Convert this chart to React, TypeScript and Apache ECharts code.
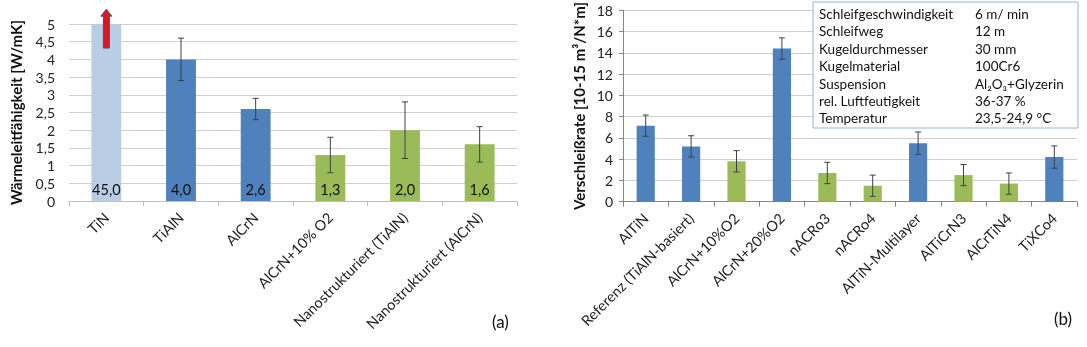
import React, { useEffect, useRef } from "react";
import * as echarts from "echarts";

// ---- Chart (a): thermal conductivity ----
const catsA = ["TiN", "TiAlN", "AlCrN", "AlCrN+10% O2", "Nanostrukturiert (TiAlN)", "Nanostrukturiert (AlCrN)"];
const valuesA = [45.0, 4.0, 2.6, 1.3, 2.0, 1.6];
const errA = [0, 0.6, 0.3, 0.5, 0.8, 0.5];
const colorsA = ["#b9cde5", "#4f81bd", "#4f81bd", "#9bbb59", "#9bbb59", "#9bbb59"];
const yTicksA = { min: 0, max: 5, interval: 0.5 };
const arrowRange = [4.32, 5.42];

// ---- Chart (b): wear rate ----
const catsB = ["AlTiN", "Referenz (TiAlN-basiert)", "AlCrN+10%O2", "AlCrN+20%O2", "nACRo3", "nACRo4", "AlTiN-Multilayer", "AlTiCrN3", "AlCrTiN4", "TiXCo4"];
const valuesB = [7.15, 5.2, 3.8, 14.4, 2.7, 1.5, 5.5, 2.5, 1.7, 4.2];
const errB = [1.0, 1.0, 1.0, 1.0, 1.0, 1.0, 1.05, 1.0, 1.0, 1.05];
const colorsB = ["#4f81bd", "#4f81bd", "#9bbb59", "#4f81bd", "#9bbb59", "#9bbb59", "#4f81bd", "#9bbb59", "#9bbb59", "#4f81bd"];
const yTicksB = { min: 0, max: 18, interval: 2 };

// ---- Test parameter table ----
const tableLabels = ["Schleifgeschwindigkeit", "Schleifweg", "Kugeldurchmesser", "Kugelmaterial", "Suspension", "rel. Luftfeutigkeit", "Temperatur"];
const tableValues = ["6 m/ min", "12 m", "30 mm", "100Cr6", "Al₂O₃+Glyzerin", "36-37 %", "23,5-24,9 °C"];

const FONT = "Lato, 'Liberation Sans', sans-serif";
const comma = (v: number) => String(v).replace(".", ",");

function errorBarRender(params: any, api: any) {
  const x = api.value(0);
  const lo = api.coord([x, api.value(1)]);
  const hi = api.coord([x, api.value(2)]);
  const cap = 3;
  const style = { stroke: "#404040", lineWidth: 1 };
  return {
    type: "group",
    children: [
      { type: "line", shape: { x1: lo[0], y1: lo[1], x2: hi[0], y2: hi[1] }, style },
      { type: "line", shape: { x1: lo[0] - cap, y1: lo[1], x2: lo[0] + cap, y2: lo[1] }, style },
      { type: "line", shape: { x1: hi[0] - cap, y1: hi[1], x2: hi[0] + cap, y2: hi[1] }, style },
    ],
  };
}

export default function App() {
  const ref = useRef<HTMLDivElement>(null);
  useEffect(() => {
    if (!ref.current) return;
    const chart = echarts.init(ref.current, undefined, { renderer: "svg" });
    const errDataA = valuesA
      .map((v, i) => (errA[i] > 0 ? [i, v - errA[i], v + errA[i]] : null))
      .filter((d) => d !== null);
    const errDataB = valuesB.map((v, i) => [i, v - errB[i], v + errB[i]]);

    const axisLabelStyle = { color: "#222", fontFamily: FONT, fontSize: 14.5 };
    const tableEls: any[] = [
      {
        type: "rect",
        id: "tblbox",
        shape: { x: 813, y: 2, width: 265, height: 126 },
        style: { fill: "#fff", stroke: "#95b3d7", lineWidth: 1 },
        z: 100,
      },
    ];
    tableLabels.forEach((t, i) => {
      tableEls.push({
        type: "text",
        id: "tl" + i,
        x: 819,
        y: 14 + i * 17.4,
        style: { text: t, fill: "#111", font: `13.5px ${FONT}`, verticalAlign: "middle" },
        z: 101,
      });
      tableEls.push({
        type: "text",
        id: "tv" + i,
        x: 975,
        y: 14 + i * 17.4,
        style: { text: tableValues[i], fill: "#111", font: `13.5px ${FONT}`, verticalAlign: "middle" },
        z: 101,
      });
    });

    chart.setOption({
      animation: false,
      grid: [
        { left: 69, right: 570, top: 24, bottom: 146 },
        { left: 623, right: 10, top: 9, bottom: 145.3 },
      ],
      xAxis: [
        {
          type: "category",
          gridIndex: 0,
          data: catsA,
          axisLine: { lineStyle: { color: "#bfbfbf" } },
          axisTick: { show: true, length: 5, lineStyle: { color: "#bfbfbf" } },
          axisLabel: { ...axisLabelStyle, rotate: 45, interval: 0, margin: 14 },
        },
        {
          type: "category",
          gridIndex: 1,
          data: catsB,
          axisLine: { lineStyle: { color: "#868686" } },
          axisTick: { show: true, length: 5, lineStyle: { color: "#868686" } },
          axisLabel: { ...axisLabelStyle, rotate: 45, interval: 0, margin: 14 },
        },
      ],
      yAxis: [
        {
          type: "value",
          gridIndex: 0,
          ...yTicksA,
          name: "Wärmeleitfähigkeit [W/mK]",
          nameLocation: "middle",
          nameGap: 46,
          nameTextStyle: { fontFamily: FONT, fontSize: 15, fontWeight: "bold", color: "#111" },
          axisLine: { show: false },
          axisTick: { show: false },
          axisLabel: { color: "#222", fontFamily: FONT, fontSize: 14, margin: 14, formatter: (v: number) => comma(v) },
          splitLine: { lineStyle: { color: "#cfcfcf", width: 1 } },
        },
        {
          type: "value",
          gridIndex: 1,
          ...yTicksB,
          name: "Verschleißrate [10-15 m³/N*m]",
          nameLocation: "middle",
          nameGap: 37,
          nameTextStyle: { fontFamily: FONT, fontSize: 15, fontWeight: "bold", color: "#111" },
          axisLine: { show: true, lineStyle: { color: "#868686" } },
          axisTick: { show: true, length: 4, lineStyle: { color: "#868686" } },
          axisLabel: { color: "#222", fontFamily: FONT, fontSize: 14, margin: 10 },
          splitLine: { lineStyle: { color: "#cfcfcf", width: 1 } },
        },
      ],
      series: [
        {
          type: "bar",
          xAxisIndex: 0,
          yAxisIndex: 0,
          barWidth: "40%",
          clip: true,
          data: valuesA.map((v, i) => ({ value: v, itemStyle: { color: colorsA[i] } })),
          label: {
            show: true,
            position: "insideBottom",
            distance: 4,
            color: "#111",
            fontFamily: FONT,
            fontSize: 14.5,
            formatter: (p: any) => p.value.toFixed(1).replace(".", ","),
          },
        },
        {
          type: "custom",
          xAxisIndex: 0,
          yAxisIndex: 0,
          renderItem: errorBarRender,
          data: errDataA,
          z: 10,
        },
        {
          type: "bar",
          xAxisIndex: 1,
          yAxisIndex: 1,
          barWidth: "40%",
          data: valuesB.map((v, i) => ({ value: v, itemStyle: { color: colorsB[i] } })),
        },
        {
          type: "custom",
          xAxisIndex: 1,
          yAxisIndex: 1,
          renderItem: errorBarRender,
          data: errDataB,
          z: 10,
        },
      ],
      graphic: {
        elements: [
          ...tableEls,
          { type: "text", id: "lblA", x: 492, y: 313, style: { text: "(a)", fill: "#111", font: `17px ${FONT}` } },
          { type: "text", id: "lblB", x: 1054, y: 310, style: { text: "(b)", fill: "#111", font: `17px ${FONT}` } },
        ],
      },
    });

    const top = chart.convertToPixel({ xAxisIndex: 0, yAxisIndex: 0 }, [0, arrowRange[1]]) as number[];
    const bot = chart.convertToPixel({ xAxisIndex: 0, yAxisIndex: 0 }, [0, arrowRange[0]]) as number[];
    const cx = top[0];
    const yt = top[1];
    const yb = bot[1];
    const head = 7;
    chart.setOption({
      graphic: {
        elements: [
          {
            type: "polygon",
            id: "arrow",
            z: 120,
            shape: {
              points: [
                [cx, yt],
                [cx + 5.5, yt + head],
                [cx + 3, yt + head],
                [cx + 3, yb],
                [cx - 3, yb],
                [cx - 3, yt + head],
                [cx - 5.5, yt + head],
              ],
            },
            style: { fill: "#e3141b", stroke: "#2f5597", lineWidth: 1 },
          },
        ],
      },
    });

    return () => chart.dispose();
  }, []);
  return <div ref={ref} style={{ position: "fixed", left: 0, top: 0, width: 1087, height: 347 }} />;
}
